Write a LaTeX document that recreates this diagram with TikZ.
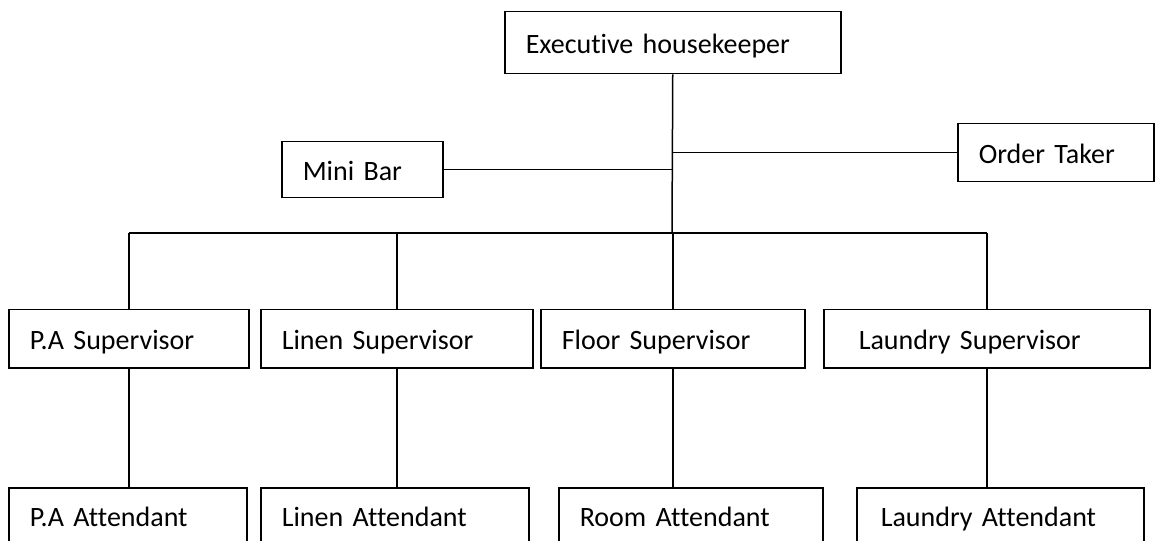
\documentclass[tikz,border=0pt]{standalone}
\usepackage{fontspec}
\setmainfont{Carlito}[Ligatures=NoCommon]

\tikzset{
  orgbox/.style={draw, line width=1.5bp, anchor=north west, align=left,
    inner xsep=21bp, inner ysep=0pt, text height=26bp, text depth=4bp,
    font=\fontsize{28bp}{34bp}\selectfont},
  link/.style={line width=1.5bp}
}

\begin{document}
\begin{tikzpicture}[x=1bp, y=-1bp]

\useasboundingbox (0,0) rectangle (1155,541);

% top boxes
\node[orgbox, text width=294bp, minimum height=62bp] (exec) at (504,11) {Executive housekeeper};
\node[orgbox, text width=119bp, minimum height=56bp] (minibar) at (281,141) {Mini Bar};
\node[orgbox, text width=154bp, minimum height=58bp] (order) at (957,123) {Order Taker};

% supervisors
\node[orgbox, text width=198bp, minimum height=58bp] (pasup) at (8,309) {P.A Supervisor};
\node[orgbox, text width=230bp, minimum height=58bp] (linensup) at (260,309) {Linen Supervisor};
\node[orgbox, text width=222bp, minimum height=58bp] (floorsup) at (540,309) {Floor Supervisor};
\node[orgbox, inner xsep=35bp, text width=256bp, minimum height=58bp] (laundrysup) at (823,309) {Laundry Supervisor};

% attendants
\node[orgbox, text width=196bp, minimum height=56bp] (paatt) at (8,487) {P.A Attendant};
\node[orgbox, text width=226bp, minimum height=56bp] (linenatt) at (260,487) {Linen Attendant};
\node[orgbox, text width=222bp, minimum height=56bp] (roomatt) at (558,487) {Room Attendant};
\node[orgbox, inner xsep=24bp, text width=239bp, minimum height=56bp] (laundryatt) at (856,487) {Laundry Attendant};

% trunk and side lines
\coordinate (hub) at (672,233);
\draw[link] (exec.south) -- (hub);
\draw[link] (minibar.east) -- (minibar.east -| hub);
\draw[link] (order.west) -- (order.west -| hub);

% bus line
\draw[link] (pasup.north |- hub) -- (laundrysup.north |- hub);

% drops
\foreach \s/\a in {pasup/paatt, linensup/linenatt, floorsup/roomatt, laundrysup/laundryatt} {
    \draw[link] (\s.north |- hub) -- (\s.north);
    \draw[link] (\s.south) -- (\s.south |- \a.north);
}

\end{tikzpicture}
\end{document}
